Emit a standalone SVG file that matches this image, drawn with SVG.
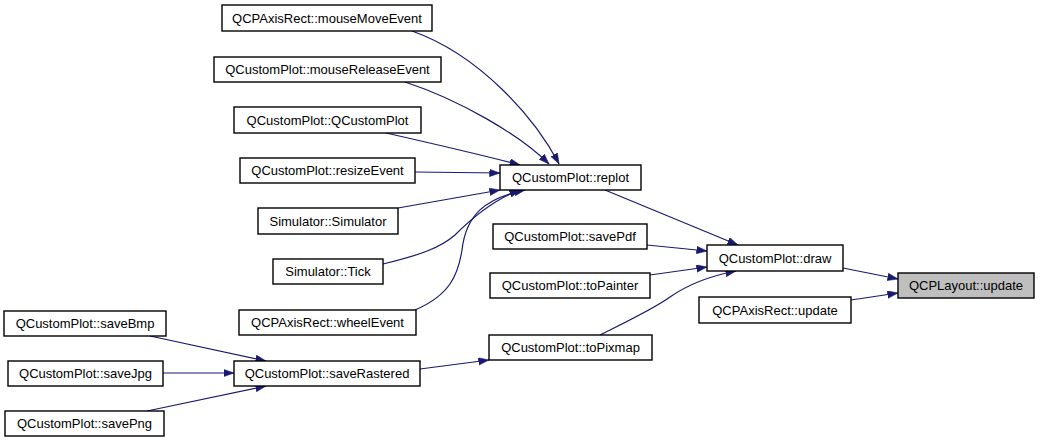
<svg xmlns="http://www.w3.org/2000/svg" width="1040" height="443" viewBox="0 0 1040 443">
<style>
.n rect{fill:#fff;stroke:#000;stroke-width:1.4}
.n.h rect{fill:#bfbfbf}
.n text{font-family:"Liberation Sans",Arial,sans-serif;font-size:13px;fill:#000;text-anchor:middle}
.e path{fill:none;stroke:#191970;stroke-width:1.2;marker-end:url(#ah)}
</style>
<defs>
<marker id="ah" markerUnits="userSpaceOnUse" markerWidth="11" markerHeight="8" refX="10.5" refY="3.75" orient="auto">
<path d="M0,0 L10.5,3.75 L0,7.5 z" fill="#191970" stroke="#191970" stroke-width="0.5"/>
</marker>
</defs>
<rect width="1040" height="443" fill="#fff"/>
<g id="connectors" class="e">
<path d="M412,31 C480,55 535,118 559,164"/>
<path d="M405,82 C460,100 520,135 549,164"/>
<path d="M386,133 C430,143 490,157 520,165"/>
<path d="M415,172 L500,173"/>
<path d="M398,208 L500,190"/>
<path d="M383,264 C420,255 440,248 455,235 C475,215 498,198 520,190"/>
<path d="M415,310 C450,295 458,275 462,250 C466,215 485,198 525,190"/>
<path d="M605,190 L738,245"/>
<path d="M647,245 L707,251"/>
<path d="M650,275 L707,267"/>
<path d="M600,335 C630,320 655,308 670,297 C690,283 710,276 736,271"/>
<path d="M843,268 L898,279"/>
<path d="M851,300 L898,293"/>
<path d="M420,369 L489,360"/>
<path d="M150,336 L266,361"/>
<path d="M163,373 L234,373"/>
<path d="M147,411 L266,386"/>
</g>
<g id="mouseMoveEvent" class="n"><rect x="222" y="5" width="210" height="26"/><text x="327" y="22.5">QCPAxisRect::mouseMoveEvent</text></g>
<g id="mouseReleaseEvent" class="n"><rect x="214" y="57" width="227" height="25"/><text x="327.5" y="74">QCustomPlot::mouseReleaseEvent</text></g>
<g id="QCustomPlot" class="n"><rect x="234" y="107" width="187" height="26"/><text x="327.5" y="124.5">QCustomPlot::QCustomPlot</text></g>
<g id="resizeEvent" class="n"><rect x="240" y="158" width="175" height="25"/><text x="327.5" y="175">QCustomPlot::resizeEvent</text></g>
<g id="Simulator" class="n"><rect x="258" y="208" width="140" height="26"/><text x="328" y="225.5">Simulator::Simulator</text></g>
<g id="Tick" class="n"><rect x="273" y="259" width="110" height="25"/><text x="328" y="276">Simulator::Tick</text></g>
<g id="wheelEvent" class="n"><rect x="239" y="310" width="177" height="25"/><text x="327.5" y="327">QCPAxisRect::wheelEvent</text></g>
<g id="saveRastered" class="n"><rect x="234" y="361" width="186" height="25"/><text x="327" y="378">QCustomPlot::saveRastered</text></g>
<g id="saveBmp" class="n"><rect x="4" y="311" width="162" height="25"/><text x="85" y="328">QCustomPlot::saveBmp</text></g>
<g id="saveJpg" class="n"><rect x="8" y="361" width="155" height="25"/><text x="85.5" y="378">QCustomPlot::saveJpg</text></g>
<g id="savePng" class="n"><rect x="5" y="411" width="159" height="25"/><text x="84.5" y="428">QCustomPlot::savePng</text></g>
<g id="replot" class="n"><rect x="500" y="165" width="141" height="25"/><text x="570.5" y="182">QCustomPlot::replot</text></g>
<g id="savePdf" class="n"><rect x="493" y="224" width="154" height="25"/><text x="570" y="241">QCustomPlot::savePdf</text></g>
<g id="toPainter" class="n"><rect x="490" y="273" width="160" height="25"/><text x="570" y="290">QCustomPlot::toPainter</text></g>
<g id="toPixmap" class="n"><rect x="489" y="335" width="163" height="25"/><text x="570.5" y="352">QCustomPlot::toPixmap</text></g>
<g id="draw" class="n"><rect x="707" y="245" width="136" height="26"/><text x="775" y="262.5">QCustomPlot::draw</text></g>
<g id="QCPAxisRect_update" class="n"><rect x="699" y="297" width="152" height="26"/><text x="775" y="314.5">QCPAxisRect::update</text></g>
<g id="QCPLayout_update" class="n h"><rect x="898" y="273" width="136" height="25"/><text x="966" y="290">QCPLayout::update</text></g>
</svg>
